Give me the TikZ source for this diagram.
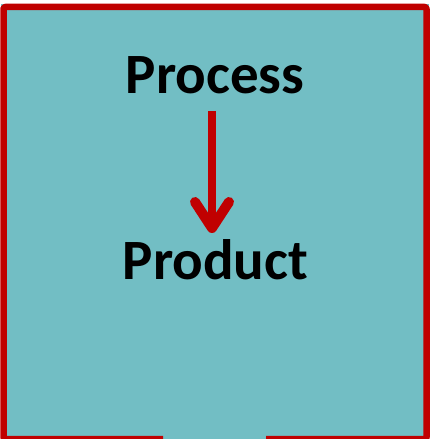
\documentclass[tikz,border=0pt]{standalone}
\usepackage{fontspec}
\setmainfont{Carlito}
\usetikzlibrary{arrows.meta}
\definecolor{boxfill}{HTML}{72BEC4}
\definecolor{boxred}{HTML}{C00000}
\tikzset{
  label text/.style={font=\bfseries\fontsize{57}{60}\selectfont, text=black, inner sep=0pt, anchor=base},
  flow/.style={draw=boxred, line width=8pt, -{Straight Barb[round, length=26pt, width=34pt, line width=2pt 1]}}
}
\begin{document}
\begin{tikzpicture}[x=1pt,y=1pt]
\useasboundingbox (0,0) rectangle (430,439);
\begin{scope}
\clip (0,0) rectangle (430,439);
\fill[boxfill] (0.5,-5) rectangle (429,435);
\draw[boxred, line width=6.5pt, line join=round, rounded corners=2pt]
  (163,-0.25) -- (3.5,-0.25) -- (3.5,432) -- (426.5,432) -- (426.5,-0.25) -- (266,-0.25);
\end{scope}
\node[label text] (process) at (215,345) {Process};
\node[label text] (product) at (215.5,159) {Product};
\coordinate (a1) at (212,328);
\coordinate (a2) at (212,206);
\draw[flow] (a1) -- (a2);
\end{tikzpicture}
\end{document}
